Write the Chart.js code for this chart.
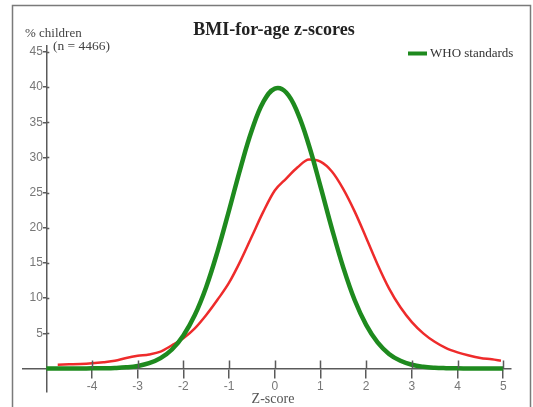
<!DOCTYPE html>
<html>
<head>
<meta charset="utf-8">
<script src="https://cdn.jsdelivr.net/npm/chart.js@4.4.0/dist/chart.umd.min.js"></script>
<style>
    html, body { margin: 0; padding: 0; background: #fff; }
</style>
</head>
<body>
<canvas id="bmichart" width="533" height="407"></canvas>
<script>
// WHO reference curve (% children per z-score)
var whoZ = [-5, -4.75, -4.5, -4.25, -4, -3.75, -3.5, -3.25, -3, -2.75, -2.5, -2.25, -2, -1.75, -1.5, -1.25, -1, -0.75, -0.5, -0.25,
    0, 0.25, 0.5, 0.75, 1, 1.25, 1.5, 1.75, 2, 2.25, 2.5, 2.75, 3, 3.25, 3.5, 3.75, 4, 4.25, 4.5, 4.75, 5];
var whoPct = [0, 0, 0, 0.01, 0.02, 0.04, 0.08, 0.17, 0.36, 0.75, 1.47, 2.7, 4.7, 7.6, 11.6, 16.7, 22.5, 28.5, 33.9, 37.9,
    39.8, 39.25, 36.35, 31.67, 25.9, 19.9, 14.35, 9.7, 6.2, 3.7, 2.07, 1.1, 0.54, 0.25, 0.11, 0.05, 0.02, 0.01, 0, 0, 0];

// survey sample (n = 4466)
var sampleZ = [-4.75, -4.5, -4.25, -4, -3.75, -3.5, -3.25, -3, -2.75, -2.5, -2.25, -2, -1.75, -1.5, -1.25, -1, -0.75, -0.5, -0.25,
    0, 0.25, 0.5, 0.75, 1, 1.25, 1.5, 1.75, 2, 2.25, 2.5, 2.75, 3, 3.25, 3.5, 3.75, 4, 4.25, 4.5, 4.75, 4.95];
var samplePct = [0.55, 0.6, 0.65, 0.75, 0.9, 1.1, 1.5, 1.8, 2.0, 2.4, 3.3, 4.3, 5.7, 7.6, 9.8, 12.2, 15.3, 18.8, 22.3,
    25.3, 27.0, 28.6, 29.7, 29.4, 28.0, 25.5, 22.3, 18.6, 14.8, 11.4, 8.7, 6.6, 5.0, 3.8, 2.9, 2.3, 1.85, 1.5, 1.3, 1.1];

var xTicks = [-4, -3, -2, -1, 0, 1, 2, 3, 4, 5];
var yTicks = [5, 10, 15, 20, 25, 30, 35, 40, 45];

var greenCol = '#1e8a1e';
var redCol = '#ee2b2b';
var axisCol = '#5a5a5a';

function toPoints(xs, ys) {
    return xs.map(function (v, i) { return {x: v, y: ys[i]}; });
}

// frame, titles, legend and the inner half of the tick marks
var extras = {
    id: 'extras',
    beforeDraw: function (chart) {
        var ctx = chart.ctx;
        ctx.save();
        ctx.fillStyle = '#fff';
        ctx.fillRect(0, 0, chart.width, chart.height);
        ctx.strokeStyle = '#7a7a7a';
        ctx.lineWidth = 1.5;
        ctx.strokeRect(12.5, 5.5, 518, 430);
        ctx.restore();
    },
    afterDraw: function (chart) {
        var ctx = chart.ctx;
        var xs = chart.scales.x, ys = chart.scales.y;
        var x0 = xs.getPixelForValue(-5), y0 = ys.getPixelForValue(0);
        ctx.save();
        ctx.strokeStyle = axisCol;
        ctx.lineWidth = 1.5;
        ctx.beginPath();
        xTicks.forEach(function (v) {
            var px = Math.round(xs.getPixelForValue(v)) + 0.5;
            ctx.moveTo(px, y0);
            ctx.lineTo(px, y0 - 8);
        });
        yTicks.forEach(function (v) {
            var py = Math.round(ys.getPixelForValue(v)) + 0.5;
            ctx.moveTo(x0, py);
            ctx.lineTo(x0 + 3, py);
        });
        ctx.stroke();

        ctx.fillStyle = '#222';
        ctx.font = 'bold 18px "Liberation Serif"';
        ctx.textAlign = 'center';
        ctx.textBaseline = 'alphabetic';
        ctx.fillText('BMI-for-age z-scores', 274, 35);

        ctx.fillStyle = '#444';
        ctx.font = '13px "Liberation Serif"';
        ctx.textAlign = 'left';
        ctx.fillText('% children', 25, 37);
        ctx.font = '13.5px "Liberation Serif"';
        ctx.fillText('(n = 4466)', 53, 50);

        ctx.font = '14px "Liberation Serif"';
        ctx.textAlign = 'center';
        ctx.fillStyle = '#555';
        ctx.fillText('Z-score', 273, 403);

        // legend
        ctx.strokeStyle = greenCol;
        ctx.lineWidth = 4;
        ctx.beginPath();
        ctx.moveTo(408, 53.5);
        ctx.lineTo(427, 53.5);
        ctx.stroke();
        ctx.fillStyle = '#333';
        ctx.font = '13px "Liberation Serif"';
        ctx.textAlign = 'left';
        ctx.fillText('WHO standards', 430, 57);
        ctx.restore();
    }
};

var myChart = new Chart(document.getElementById('bmichart'), {
    type: 'line',
    data: {
        datasets: [
            {
                label: 'WHO standards',
                data: toPoints(whoZ, whoPct),
                borderColor: greenCol,
                borderWidth: 4.5,
                pointRadius: 0,
                tension: 0.4,
                fill: false
            },
            {
                label: 'Sample',
                data: toPoints(sampleZ, samplePct),
                borderColor: redCol,
                borderWidth: 2.5,
                pointRadius: 0,
                cubicInterpolationMode: 'monotone',
                fill: false
            }
        ]
    },
    options: {
        responsive: false,
        animation: false,
        layout: {padding: {left: 23, right: 22, top: 46, bottom: 15}},
        plugins: {
            legend: {display: false},
            title: {display: false},
            tooltip: {enabled: false}
        },
        scales: {
            x: {
                type: 'linear',
                min: -5.51,
                max: 5.17,
                position: {y: 0},
                afterBuildTicks: function (axis) {
                    axis.ticks = xTicks.map(function (v) { return {value: v}; });
                },
                grid: {drawOnChartArea: false, tickLength: 9, color: axisCol, lineWidth: 1.5},
                border: {display: true, color: axisCol, width: 1.5},
                ticks: {
                    padding: 2,
                    color: '#777',
                    font: {family: 'Liberation Sans', size: 12},
                    maxRotation: 0,
                    autoSkip: false
                }
            },
            y: {
                type: 'linear',
                min: -3.34,
                max: 45.85,
                position: {x: -5},
                afterBuildTicks: function (axis) {
                    axis.ticks = yTicks.map(function (v) { return {value: v}; });
                },
                grid: {drawOnChartArea: false, tickLength: 3, color: axisCol, lineWidth: 1.5},
                border: {display: true, color: axisCol, width: 1.5},
                ticks: {
                    padding: 1,
                    color: '#777',
                    font: {family: 'Liberation Sans', size: 12},
                    autoSkip: false,
                    // labels of a positioned axis sit on the line, so pad them
                    callback: function (v) { return v + ' '; }
                }
            }
        }
    },
    plugins: [extras]
});
</script>
</body>
</html>
